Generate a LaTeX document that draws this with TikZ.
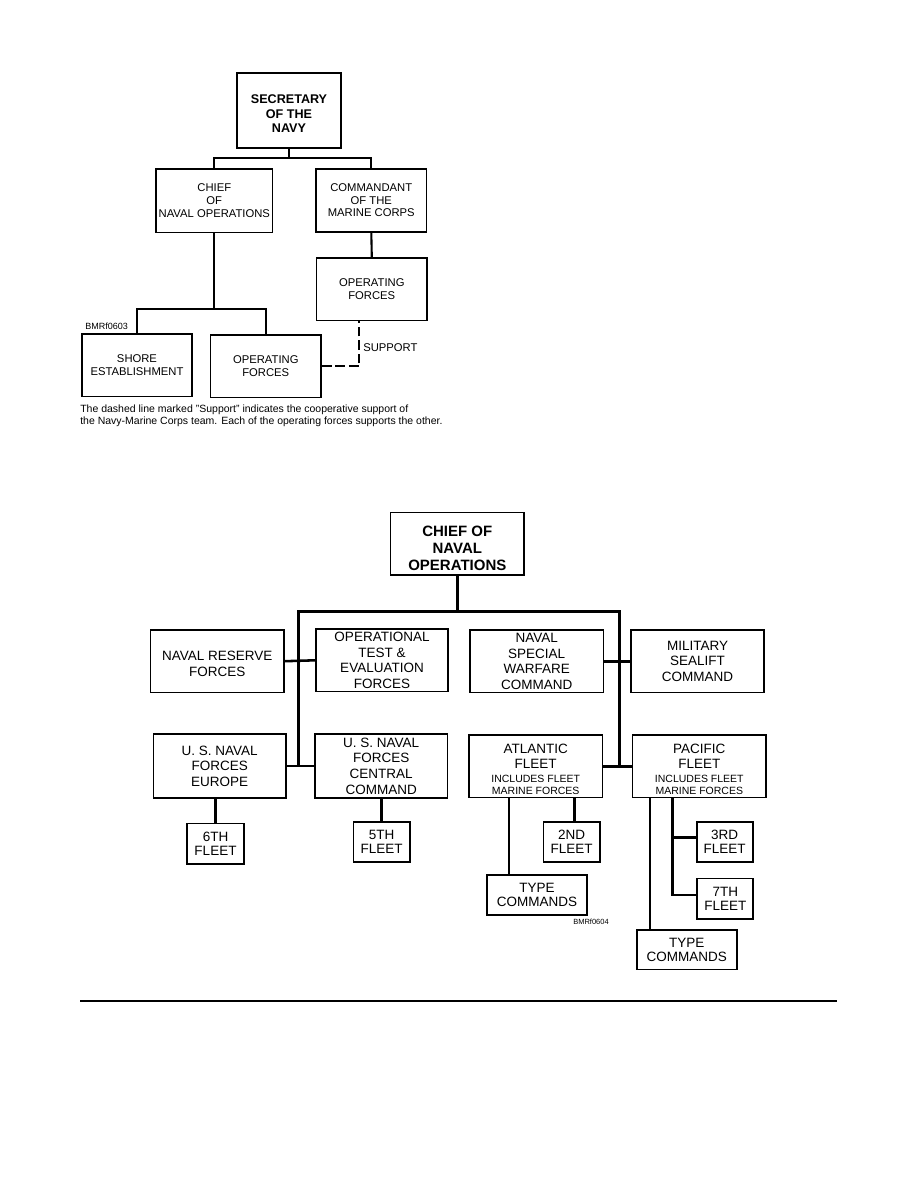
\documentclass[tikz,border=0pt]{standalone}
\usepackage{fontspec}
\setmainfont{Liberation Sans}
\newcommand{\tr}{\fontsize{7.5}{8.5}\selectfont}
\newcommand{\tbf}{\fontsize{8.4}{9.5}\selectfont\bfseries}
\newcommand{\br}{\fontsize{9}{10.4}\selectfont}
\newcommand{\brs}{\fontsize{9}{9.4}\selectfont}
\newcommand{\bra}{\fontsize{9}{9.7}\selectfont}
\newcommand{\bbf}{\fontsize{10}{11.2}\selectfont\bfseries}
\newcommand{\sm}{\fontsize{7}{7.8}\selectfont}
\begin{document}
\begin{tikzpicture}[x=0.6667pt,y=-0.6667pt,
  box/.style 2 args={draw, line width=1.1pt, minimum width=#1*0.6667pt, minimum height=#2*0.6667pt, inner sep=0pt, align=center},
  conn/.style={line width=1.4pt},
  conntwo/.style={line width=1.7pt},
  supp/.style={line width=1.4pt, dash pattern=on 6.5pt off 2.5pt},
  lbl/.style={inner sep=0pt}]
\fill[white] (0,0) rectangle (918,1188);
\useasboundingbox (0,0) rectangle (918,1188);

% ---------- top chart ----------
\node[box={104}{75}, font=\tbf] (sec) at (289,110.2) {\rule{0pt}{10.6pt}SECRETARY\\OF THE\\NAVY};
\node[box={116.7}{63.3}, font=\tr] (cnoa) at (214.3,200.7) {CHIEF\\OF\\NAVAL OPERATIONS};
\node[box={110.7}{63}, font=\tr] (cmc) at (371.3,200.2) {COMMANDANT\\OF THE\\MARINE CORPS};
\node[box={110.3}{62.7}, font=\tr] (mop) at (371.8,289.3) {OPERATING\\FORCES};
\node[box={110.6}{62.7}, font=\tr] (shore) at (137,365.3) {SHORE\\ESTABLISHMENT};
\node[box={110.3}{62.7}, font=\tr] (nop) at (265.8,366.3) {OPERATING\\FORCES};

\coordinate (ja) at (289,157.7);
\draw[conn] (sec.south) -- (ja);
\draw[conn] (cnoa.north) |- (ja) -| (cmc.north);
\draw[conn] (cmc.south) -- (mop.north);
\coordinate (jb) at (214.3,309.3);
\draw[conn] (cnoa.south) -- (jb);
\draw[conn] (shore.north) |- (jb) -| (nop.north);
\coordinate (dc) at (359.3,366.3);
\draw[supp] (nop.east) -- (dc) -- (dc |- mop.south);

\node[lbl, anchor=west, font=\fontsize{6}{7}\selectfont] (bmra) at (85,326.7) {BMRf0603};
\node[lbl, anchor=west, font=\tr] (sup) at (363,348) {SUPPORT};
\node[lbl, anchor=base west, align=left, font=\fontsize{7}{8}\selectfont] (cap) at (80,424)
  {The dashed line marked "Support" indicates the cooperative support of\\the Navy-Marine Corps team. Each of the operating forces supports the other.};

% ---------- bottom chart ----------
\node[box={133.3}{62.3}, font=\bbf] (cno) at (457.3,543.8) {\rule{0pt}{13.2pt}CHIEF OF\\NAVAL\\OPERATIONS};
\coordinate (jc) at (457.3,611.7);
\coordinate (lt) at (298.3,611.7);
\coordinate (rt) at (619.3,611.7);
\coordinate (lb) at (298.3,766);
\coordinate (rb) at (619.3,767.5);
\draw[conntwo] (cno.south) -- (jc);
\draw[conntwo] (lb) -- (lt) -- (rt) -- (rb);

\node[box={133.3}{62.3}, font=\br] (nrf) at (217.3,661.2) {\rule{0pt}{9.8pt}NAVAL RESERVE\\FORCES};
\node[box={132.6}{62.7}, font=\br] (ote) at (382,660.3) {OPERATIONAL\\TEST \&\\EVALUATION\\FORCES};
\node[box={133.3}{62.7}, font=\br] (nsw) at (536.7,661.3) {NAVAL\\SPECIAL\\WARFARE\\COMMAND};
\node[box={133}{62.7}, font=\br] (msc) at (697.5,661.3) {MILITARY\\SEALIFT\\COMMAND};
\draw[conntwo] (nrf.east) -- (ote.west);
\draw[conntwo] (nsw.east) -- (msc.west);

\node[box={132.7}{63.4}, font=\br] (eur) at (219.7,766) {U. S. NAVAL\\FORCES\\EUROPE};
\node[box={132.3}{63.4}, font=\br] (cen) at (381.2,766) {U. S. NAVAL\\FORCES\\CENTRAL\\COMMAND};
\node[box={133.3}{62.7}, font=\bra] (atl) at (535.7,766.3) {\rule{0pt}{10.5pt}ATLANTIC\\FLEET\\\sm INCLUDES FLEET\\[-1.9pt]\sm MARINE FORCES};
\node[box={133.3}{62.7}, font=\bra] (pac) at (699.3,766.3) {\rule{0pt}{10.5pt}PACIFIC\\FLEET\\\sm INCLUDES FLEET\\[-1.9pt]\sm MARINE FORCES};
\draw[conntwo] (eur.east) -- (cen.west);
\draw[conntwo] (atl.east) -- (pac.west);

\node[box={57.6}{40.7}, font=\brs] (fsix) at (215.5,843.7) {6TH\\FLEET};
\node[box={56.7}{40}, font=\brs] (ffive) at (381.7,841.7) {5TH\\FLEET};
\node[box={56.7}{40.6}, font=\brs] (ftwo) at (571.7,842) {2ND\\FLEET};
\node[box={100.6}{40}, font=\brs] (tca) at (537,895) {TYPE\\COMMANDS};
\node[box={56}{40.6}, font=\brs] (fthree) at (724.7,842) {3RD\\FLEET};
\node[box={56}{40.7}, font=\brs] (fseven) at (725.3,898.7) {7TH\\FLEET};
\node[box={100}{39.3}, font=\brs] (tcp) at (686.7,949.7) {TYPE\\COMMANDS};

\draw[conntwo] (fsix.north) -- (fsix.north |- eur.south);
\draw[conntwo] (ffive.north) -- (ffive.north |- cen.south);
\coordinate (ctwo) at (574.3,842);
\draw[conntwo] (ctwo |- atl.south) -- (ctwo |- ftwo.north);
\coordinate (cthree) at (509,895);
\draw[conntwo] (cthree |- atl.south) -- (cthree |- tca.north);
\coordinate (bthree) at (672.7,837.3);
\coordinate (bseven) at (672.7,895);
\draw[conntwo] (bthree |- pac.south) -- (bseven) -- (bseven -| fseven.west);
\draw[conntwo] (bthree) -- (bthree -| fthree.west);
\coordinate (cfive) at (650,950);
\draw[conntwo] (cfive |- pac.south) -- (cfive |- tcp.north);

\node[lbl, anchor=west, font=\fontsize{5}{6}\selectfont] (bmrb) at (573,921.7) {BMRf0604};

\coordinate (ra) at (80.4,1001);
\coordinate (rbb) at (836.5,1001);
\draw[line width=0.8pt] (ra) -- (rbb);
\end{tikzpicture}
\end{document}
